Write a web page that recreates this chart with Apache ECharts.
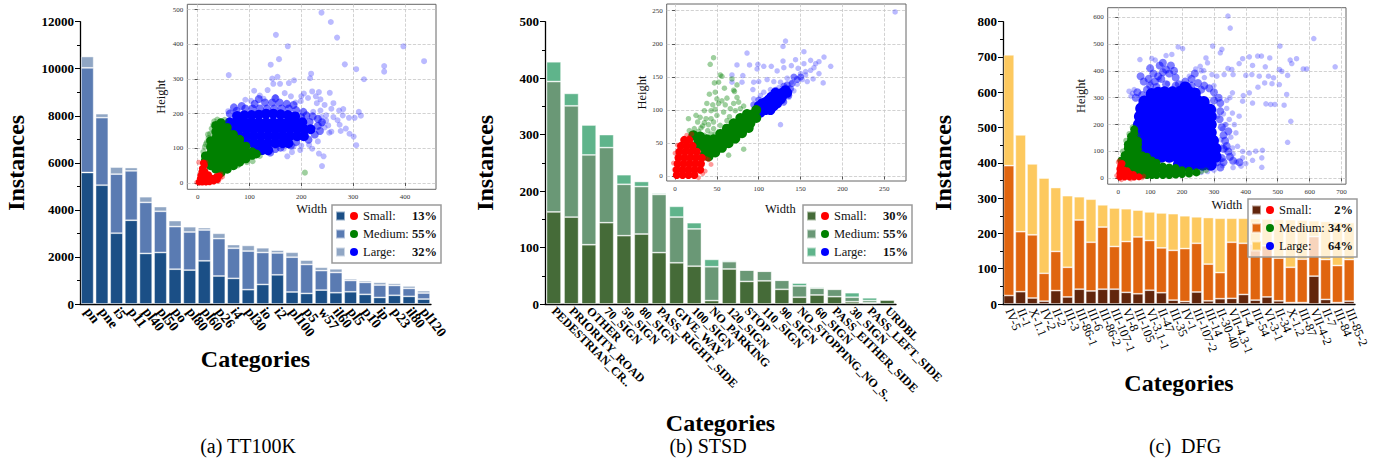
<!DOCTYPE html>
<html>
<head>
<meta charset="utf-8">
<script src="https://cdn.jsdelivr.net/npm/echarts@6/dist/echarts.min.js"></script>
<style>
  html, body { margin: 0; padding: 0; background: #fff; }
  #chart { width: 1378px; height: 466px; }
</style>
</head>
<body>
<div id="chart"></div>
<script>
// ---------- bar data (instances per size class) ----------
const catsA = ["pn", "pne", "i5", "p11", "pl40", "pl50", "po", "pl80", "pl60", "p26", "i4", "pl30",
  "io", "i2", "pl100", "p5", "w57", "il60", "pl5", "p10", "ip", "p23", "il80", "pl120"];
const smallA = [5590, 5050, 3010, 3560, 2150, 2190, 1480, 1440, 1835, 1190, 1090, 610,
  830, 1240, 510, 450, 590, 480, 520, 410, 280, 370, 325, 210];
const mediumA = [4450, 2870, 2510, 2100, 2170, 1750, 1810, 1620, 1310, 1590, 1280, 1640,
  1360, 930, 1480, 1230, 830, 860, 480, 510, 525, 420, 340, 255];
const largeA = [480, 170, 300, 140, 240, 200, 255, 225, 100, 225, 155, 240,
  200, 115, 210, 185, 140, 155, 70, 70, 115, 85, 100, 100];

const catsB = ["PEDESTRIAN_CR..", "PRIORITY_ROAD", "OTHER", "70_SIGN", "50_SIGN", "80_SIGN",
  "PASS_RIGHT_SIDE", "GIVE_WAY", "100_SIGN", "NO_PARKING", "120_SIGN", "STOP", "110_SIGN",
  "90_SIGN", "NO_STOPPING_NO_S..", "60_SIGN", "PASS_EITHER_SIDE", "30_SIGN", "PASS_LEFT_SIDE", "URDBL"];
const smallB = [163, 154, 105, 144, 121, 124, 91, 73, 67, 6, 62, 40, 41, 26, 12, 16, 13, 4, 2, 7];
const mediumB = [231, 197, 159, 133, 91, 84, 103, 81, 66, 60, 13, 20, 17, 16, 20, 12, 13, 8, 4, 1];
const largeB = [35, 22, 53, 23, 17, 9, 2, 19, 11, 13, 2, 0, 0, 0, 5, 2, 1, 8, 5, 0];

const catsC = ["IV-5", "II-1", "X-1.1", "IV-2", "II-2", "III-3", "III-86-1", "III-6", "III-86-2",
  "III-107-1", "VI-8", "III-105", "VI-3.1-1", "II-47", "III-35", "IV-1", "III-107-2", "III-14",
  "II-30-40", "VII-4.3-1", "II-4", "III-54", "VI-3-1", "II-34", "X-1.2", "III-87", "VII-4-2",
  "II-7", "III-84", "III-85-2"];
const smallC = [24, 35, 17, 8, 38, 20, 42, 37, 42, 42, 33, 29, 39, 32, 11, 7, 34, 9, 15, 16,
  27, 11, 20, 9, 4, 4, 79, 13, 4, 8];
const mediumC = [368, 170, 179, 79, 111, 84, 196, 138, 176, 121, 144, 161, 141, 127, 141, 150,
  138, 104, 74, 159, 145, 159, 145, 121, 100, 123, 112, 113, 105, 118];
const largeC = [314, 274, 201, 270, 181, 203, 66, 122, 63, 109, 93, 76, 81, 99, 104, 93, 75,
  132, 154, 68, 71, 72, 76, 110, 135, 111, 45, 108, 123, 105];

// legend shares (%)
const sizeNames = ["Small:", "Medium:", "Large:"];
const shareA = [13, 55, 32];
const shareB = [30, 55, 15];
const shareC = [2, 34, 64];

const barMax = [12000, 500, 800];
const barStep = [2000, 100, 100];

// ---------- scatter data (width, height) ----------
const scatTicksA = { x: [0, 100, 200, 300, 400], y: [0, 100, 200, 300, 400, 500] };
const scatTicksB = { x: [0, 50, 100, 150, 200, 250], y: [0, 50, 100, 150, 200, 250] };
const scatTicksC = { x: [0, 100, 200, 300, 400, 500, 600, 700], y: [0, 100, 200, 300, 400, 500, 600] };

const aRedCore = [[3,3],[9,3],[16,3],[23,4],[31,6],[38,10],[5,12],[12,12],[20,12],[28,14],[36,18],
  [6,22],[13,22],[21,24],[8,32],[14,34],[9,42],[13,51],[11,58],[41,20]];
const aRedSemi = [[2,60],[16,60],[45,26],[40,5],[-2,2],[48,18],[44,14]];
const aGreenCore = [[15,65],[15,78],[25,50],[25,68],[25,86],[25,104],[25,122],[35,40],[35,58],[35,76],
  [35,94],[35,112],[35,130],[35,148],[35,166],[45,30],[45,48],[45,66],[45,84],[45,102],[45,120],
  [45,138],[45,156],[45,174],[57,40],[57,58],[57,76],[57,94],[57,112],[57,130],[57,148],[57,160],
  [69,50],[69,68],[69,86],[69,104],[69,122],[69,140],[81,60],[81,78],[81,96],[81,114],[81,126],
  [93,70],[93,88],[93,106],[105,80],[105,90],[113,84]];
const aGreenSemi = [[38,183],[27,157],[21,130],[14,104],[45,178],[24,142],[106,63],[78,51],[207,30],
  [59,41],[30,168],[18,118],[52,182],[120,78],[95,60],[11,90],[32,178],[20,140],[16,112]];
const aBlueCore = [[110,95],[124,95],[136,95],
  [94,115],[108,115],[122,115],[136,115],[150,115],[164,115],[175,115],
  [80,135],[94,135],[108,135],[122,135],[136,135],[150,135],[164,135],[178,135],[192,135],[205,135],
  [66,155],[80,155],[94,155],[108,155],[122,155],[136,155],[150,155],[164,155],[178,155],[192,155],[206,155],[218,155],
  [62,175],[76,175],[90,175],[104,175],[118,175],[132,175],[146,175],[160,175],[174,175],[188,175],[202,175],
  [76,193],[90,195],[104,196],[118,197],[132,200],[146,200],[160,198],[174,196],[188,192]];
const aBlueMid = [[92,215],[106,215],[120,215],[134,215],[148,215],[162,215],[176,215],[190,210],[204,205],
  [130,232],[144,232],[158,232],[172,228],[232,185],[232,165],[226,140],[214,125],
  [190,118],[160,102],[62,200],[75,208],[110,228],[222,192],[216,176],[210,195],[200,190],
  [85,222],[70,218],[240,175],[236,150],[180,108],[150,98],[140,88],[118,242],[150,244],[185,225]];
const aBlueSemi = [[239,491],[257,464],[269,419],[151,427],[174,394],[397,394],[437,351],[284,342],
  [360,337],[360,321],[306,328],[321,299],[60,311],[141,341],[157,357],[219,315],[217,302],[154,306],
  [144,301],[186,296],[176,288],[146,286],[159,286],[135,268],[109,266],[168,259],[205,258],[221,264],
  [234,262],[255,260],[213,245],[237,241],[199,236],[189,232],[92,240],[103,237],[127,243],[258,214],
  [273,209],[281,213],[311,205],[315,194],[292,188],[303,188],[270,181],[274,168],[252,166],[240,171],
  [254,145],[276,150],[286,157],[293,142],[301,134],[306,109],[258,148],[221,99],[234,85],[243,77],
  [240,49],[173,77],[182,89],[166,99],[59,207],[237,209],[223,205],[239,190],[248,195],[230,230],
  [245,225],[228,250],[200,250],[180,250],[120,252],[150,248],[248,180],[262,190],[245,160],[232,120],
  [215,110],[200,108],[198,95],[185,105],[262,230],[280,195]];

const bRedCore = [[2,2],[9,2],[16,2],[23,2],[2,10],[9,10],[16,10],[23,10],[30,10],[3,19],[10,19],[17,19],
  [24,19],[31,19],[4,28],[11,28],[18,28],[25,28],[32,28],[5,37],[12,37],[19,37],[26,37],[7,46],[14,46],
  [21,46],[11,55],[17,55]];
const bRedSemi = [[3,47],[9,55],[14,62],[17,59],[40,25],[43,18],[37,27],[36,8],[-2,20],[-1,10],[20,64],
  [33,4],[28,-2],[0,35]];
const bGreenCore = [[35,32],[35,44],[42,36],[42,48],[50,42],[50,55],[58,49],[58,62],[66,57],[66,70],
  [74,64],[74,78],[82,72],[82,86],[90,80],[90,93],[97,88],[97,100],[28,52],[33,46],[22,62],
  [38,38],[46,45],[54,52],[62,59],[70,67],[78,74],[86,82],[94,90],[46,56],[54,64],[62,72],[70,80],
  [78,88],[86,94],[30,60],[38,56],[40,30],[48,36],[56,43],[64,50],[72,57],[80,65],[88,73],[26,44]];
const bGreenSemi = [[46,179],[42,169],[54,153],[56,151],[47,141],[52,142],[59,133],[48,127],[41,124],
  [50,117],[56,114],[62,118],[71,128],[74,119],[35,99],[43,99],[48,101],[16,87],[25,92],[30,89],[37,87],
  [43,87],[50,92],[58,97],[66,102],[72,99],[78,102],[82,106],[27,82],[35,81],[46,82],[54,77],[62,84],
  [17,69],[23,72],[31,73],[39,69],[46,72],[19,64],[27,62],[35,62],[43,64],[21,57],[64,32],[82,41],
  [70,130],[68,147],[74,138],[38,110],[45,108],[52,110],[60,108],[33,76],[40,78],[28,68],[65,90],
  [70,110],[76,112],[60,75],[55,68],[48,64],[40,58]];
const bBlueCore = [[98,100],[104,104],[108,100],[112,108],[104,110],[116,112],[120,118],[112,116],
  [124,122],[128,126],[118,106],[126,116],[132,130],[96,96],[102,96],[110,104],[122,110],
  [115,120],[108,112],[128,120],[134,126],[100,106],[120,126],[114,100]];
const bBlueMid = [[140,140],[146,146],[134,138],[130,136],[142,150],
  [120,130],[100,115],[94,108],[136,122],[130,112],[138,132],[150,150]];
const bBlueSemi = [[263,248],[132,204],[129,196],[154,188],[178,180],[186,166],[172,173],[168,170],
  [162,175],[86,186],[74,168],[89,168],[99,169],[106,166],[115,166],[122,159],[129,174],[139,167],
  [147,163],[98,162],[68,153],[81,152],[68,142],[80,142],[94,142],[100,143],[110,146],[118,143],
  [126,142],[134,148],[139,142],[150,155],[156,153],[165,147],[172,155],[177,141],[158,143],[142,129],
  [136,119],[130,114],[93,131],[106,127],[114,131],[126,78],[154,170],[144,176],[130,164],[136,134],
  [146,139],[124,134],[118,125],[102,122],[94,117],[156,158],[162,160],[166,164],[152,146]];

const cRedCore = [[5,5],[20,5],[35,5],[50,5],[65,6],[5,20],[20,20],[35,18],[48,14],[5,35],[17,32],
  [28,28],[8,48],[12,55]];
const cRedSemi = [[0,60],[3,65],[75,2],[80,8],[-5,10],[10,-5],[40,-3]];
const cGreenCore = [[10,66],[20,50],[20,68],[20,86],[30,40],[30,58],[30,76],[30,94],[30,112],[30,126],
  [40,34],[40,52],[40,70],[40,88],[40,106],[40,124],[40,142],[40,156],[50,24],[50,42],[50,60],[50,78],
  [50,96],[50,114],[50,132],[50,150],[50,168],[50,182],[62,18],[62,36],[62,54],[62,72],[62,90],[62,108],
  [62,126],[62,140],[75,14],[75,32],[75,50],[75,68],[75,86],[90,12],[90,30],[90,48],[90,66],[90,80],
  [105,12],[105,30],[105,48],[105,66],[120,12],[120,30],[120,48],[120,58],[140,12],[140,28],[140,44],
  [160,12],[160,27],[160,40],[180,14],[180,28],[180,38],[200,16],[200,30],[222,18],[222,28],[245,22]];
const cGreenSemi = [[25,140],[35,165],[45,190],[15,100],[60,160],[260,26],[275,30]];
const cBlueCore = [[190,50],[215,50],[240,50],[265,50],[290,50],
  [110,80],[135,80],[160,80],[185,80],[210,80],[235,80],[260,80],[285,80],[305,80],
  [80,110],[105,110],[130,110],[155,110],[180,110],[205,110],[230,110],[255,110],[280,110],[305,110],
  [72,140],[97,140],[122,140],[147,140],[172,140],[197,140],[222,140],[247,140],[272,140],[297,140],
  [65,170],[90,170],[115,170],[140,170],[165,170],[190,170],[215,170],[240,170],[265,170],[290,170],
  [65,200],[90,200],[115,200],[140,200],[165,200],[190,200],[215,200],[240,200],[265,200],[290,200],
  [68,230],[93,230],[118,230],[143,230],[168,230],[193,230],[218,230],[243,230],[268,230],[290,230],
  [72,260],[95,260],[120,260],[145,260],[170,260],[195,260],[220,260],[245,260],[270,260],[288,255],
  [82,286],[100,290],[122,290],[147,290],[172,290],[197,290],[222,290],[247,290],[268,284],
  [105,314],[125,318],[145,320],[170,320],[195,322],[220,322],[240,316],[210,338]];
const cBlueMid = [[90,330],[100,345],[115,360],[125,380],[140,395],[150,405],[160,390],[135,370],
  [110,390],[95,370],[120,340],[150,350],[165,420],[175,400],[180,375],[80,360],[70,380],[100,410],
  [130,420],[140,430],[210,360],[230,370],[250,355],[190,350],[240,390],[270,345],[285,335],[300,320],
  [315,300],[320,280],[320,250],[318,220],[325,190],[330,160],[335,140],[340,120],[345,100],[350,80],
  [360,65],[380,60],[330,60],[320,40],[60,320],[55,300],[330,110],[345,175],[260,330],[230,345],
  [180,345],[75,310],[300,290],[310,60],[325,75]];
const cBlueSemi = [[344,604],[351,559],[613,520],[507,492],[188,489],[202,483],[296,492],[325,480],
  [320,467],[68,442],[105,446],[116,440],[150,457],[168,461],[275,448],[280,430],[390,445],[411,452],
  [437,455],[449,455],[475,448],[539,440],[559,445],[544,427],[580,407],[591,407],[680,415],[505,405],
  [513,398],[531,383],[421,420],[461,415],[379,427],[344,409],[356,405],[223,380],[243,407],[257,417],
  [268,401],[294,386],[309,380],[332,386],[360,386],[400,383],[419,386],[442,380],[471,380],[487,374],
  [505,349],[482,352],[459,355],[438,339],[411,318],[392,308],[358,318],[390,287],[421,280],[463,277],
  [478,275],[491,275],[520,272],[528,312],[541,212],[531,134],[450,41],[450,76],[421,67],[390,76],
  [411,94],[431,101],[452,104],[337,107],[358,113],[374,119],[353,153],[369,169],[338,200],[348,219],
  [364,200],[327,184],[379,231],[358,243],[322,144],[327,119],[306,88],[322,70],[400,55],[385,45],
  [327,47],[40,306],[45,316],[34,324],[50,330],[102,355],[128,368],[155,353],[170,335],[202,353],
  [223,343],[191,293],[285,268],[301,256],[312,231],[264,119],[285,194],[260,400],[270,375],[300,345],
  [340,290],[340,260],[330,240],[350,300],[335,200],[360,90],[370,60],[390,100],[360,40],[300,30],
  [280,25],[260,22]];

const captions = ["(a) TT100K", "(b) STSD", "(c)  DFG"];

// ---------- styling ----------
const serif = "'Liberation Serif', 'Times New Roman', serif";
const colorsA = ["#1b4f86", "#5a7bb2", "#90a6c4"];
const colorsB = ["#456b38", "#6a9876", "#5fb48b"];
const colorsC = ["#62260c", "#e0650f", "#fdc95f"];
const dotColors = ["#ff0000", "#008000", "#0000ff"];

const barGrids = [
  { left: 80, top: 21.7, width: 351, height: 282.3 },
  { left: 545, top: 21.7, width: 351, height: 282.3 },
  { left: 1003, top: 21.7, width: 352, height: 282.3 }
];
const insetGrids = [
  { left: 187.3, top: 4.3, width: 248.7, height: 185 },
  { left: 666.7, top: 4, width: 239.3, height: 177 },
  { left: 1107.7, top: 7.7, width: 238.3, height: 176.5 }
];

function barXAxis(i, cats, rotate, size, weight, nameGap) {
  return {
    type: "category", gridIndex: i, data: cats,
    axisLine: { lineStyle: { color: "#000", width: 1.3 } },
    axisTick: { alignWithLabel: true, length: 4, lineStyle: { color: "#000" } },
    axisLabel: { interval: 0, rotate: rotate, margin: 5, color: "#000",
      fontFamily: serif, fontSize: size, fontWeight: weight },
    name: "Categories", nameLocation: "middle", nameGap: nameGap,
    nameTextStyle: { fontFamily: serif, fontSize: 24, fontWeight: "bold", color: "#000" }
  };
}

function barYAxis(i) {
  return {
    type: "value", gridIndex: i, min: 0, max: barMax[i], interval: barStep[i],
    axisLine: { show: true, lineStyle: { color: "#000", width: 1.3 } },
    axisTick: { show: true, length: 5, lineStyle: { color: "#000" } },
    minorTick: { show: true, splitNumber: 2, length: 3, lineStyle: { color: "#000" } },
    splitLine: { show: false },
    axisLabel: { color: "#000", fontFamily: serif, fontSize: 13, fontWeight: "bold", margin: 6,
      formatter: (v) => String(v) },
    name: "Instances", nameLocation: "middle", nameGap: i === 0 ? 52 : 48,
    nameTextStyle: { fontFamily: serif, fontSize: 24, fontWeight: "bold", color: "#000" }
  };
}

function insetAxis(i, min, max, ticks, name, nameGap, namePad) {
  return {
    type: "value", gridIndex: 3 + i, min: min, max: max,
    axisLine: { show: false },
    axisTick: { show: true, length: 3, customValues: ticks, lineStyle: { color: "#555" } },
    axisLabel: { customValues: ticks, fontFamily: serif, fontSize: 7, color: "#333", margin: 4 },
    splitLine: { show: true, lineStyle: { type: "dashed", color: "#c6c6c6", width: 0.8 } },
    name: name, nameLocation: "middle", nameGap: nameGap,
    nameTextStyle: { fontFamily: serif, fontSize: 12.5, color: "#111", padding: namePad || 0 }
  };
}

function barSeries(tag, i, small, medium, large, colors) {
  return [small, medium, large].map((vals, k) => ({
    type: "bar", name: tag + k, stack: tag, xAxisIndex: i, yAxisIndex: i,
    barCategoryGap: ["13%", "17%", "10%"][i],
    data: vals,
    itemStyle: { color: colors[k], borderColor: "rgba(255,255,255,0.55)", borderWidth: 0.8 },
    silent: true
  }));
}

function dots(i, data, size, color) {
  return { type: "scatter", xAxisIndex: 3 + i, yAxisIndex: 3 + i, data: data,
    symbolSize: size, itemStyle: { color: color, opacity: 1, borderWidth: 0 }, silent: true };
}

const shares = { a: shareA, b: shareB, c: shareC };
const dotKeys = ["r", "g", "b"];
function sizeLegend(tag, left, top) {
  const rich = {
    n: { fontFamily: serif, fontSize: 12.5, color: "#111", width: 47, padding: [0, 0, 0, 5] },
    p: { fontFamily: serif, fontSize: 12.5, color: "#111", fontWeight: "bold", width: 27, align: "right" }
  };
  dotKeys.forEach((k, j) => {
    rich[k] = { width: 8, height: 8, borderRadius: 4, backgroundColor: dotColors[j] };
  });
  return {
    left: left, top: top, orient: "vertical", selectedMode: false,
    data: [tag + "0", tag + "1", tag + "2"],
    icon: "rect", itemWidth: 9, itemHeight: 9, itemGap: 4,
    padding: [4, 4, 4, 3],
    backgroundColor: "rgba(255,255,255,0.72)", borderColor: "#9a9a9a", borderWidth: 1.5,
    formatter: (name) => {
      const k = +name.slice(-1);
      return "{" + dotKeys[k] + "| }{n|" + sizeNames[k] + "}{p|" + shares[tag][k] + "%}";
    },
    textStyle: { fontFamily: serif, fontSize: 12.5, lineHeight: 14, rich: rich }
  };
}

const insetGridStyle = { show: true, borderColor: "#666", borderWidth: 1, backgroundColor: "#fff" };

const option = {
  animation: false,
  backgroundColor: "#fff",
  grid: barGrids.concat(insetGrids.map((g) => Object.assign({}, g, insetGridStyle))),
  xAxis: [
    barXAxis(0, catsA, -53, 14, "bold", 41),
    barXAxis(1, catsB, -45, 12, "bold", 93),
    barXAxis(2, catsC, -68, 12.5, "normal", 67),
    insetAxis(0, -20, 460, scatTicksA.x, "Width", 13),
    insetAxis(1, -10, 276, scatTicksB.x, "Width", 21, [0, 12, 0, 0]),
    insetAxis(2, -33, 714, scatTicksC.x, "Width", 14)
  ],
  yAxis: [
    barYAxis(0), barYAxis(1), barYAxis(2),
    insetAxis(0, -18, 515, scatTicksA.y, "Height", 20),
    insetAxis(1, -7, 260, scatTicksB.y, "Height", 18),
    insetAxis(2, -22, 635, scatTicksC.y, "Height", 20)
  ],
  legend: [
    sizeLegend("a", 332, 205),
    sizeLegend("b", 803, 205),
    sizeLegend("c", 1248, 199)
  ],
  graphic: captions.map((t, i) => ({
    type: "text", x: [248, 708, 1185][i], y: 446,
    style: { text: t, fontFamily: serif, fontSize: 20, fill: "#000", align: "center", verticalAlign: "middle" }
  })),
  series: [].concat(
    barSeries("a", 0, smallA, mediumA, largeA, colorsA),
    barSeries("b", 1, smallB, mediumB, largeB, colorsB),
    barSeries("c", 2, smallC, mediumC, largeC, colorsC),
    [
      dots(0, aBlueSemi, 6, "rgba(40,40,255,0.32)"),
      dots(0, aBlueMid, 8, "rgba(0,0,255,0.55)"),
      dots(0, aBlueCore, 10, "#0000ff"),
      dots(0, aGreenSemi, 6, "rgba(0,128,0,0.38)"),
      dots(0, aGreenCore, 9, "#008000"),
      dots(0, aRedSemi, 5, "rgba(255,0,0,0.4)"),
      dots(0, aRedCore, 7, "#ff0000"),
      dots(1, bBlueSemi, 5.5, "rgba(40,40,255,0.32)"),
      dots(1, bBlueMid, 7, "rgba(0,0,255,0.5)"),
      dots(1, bBlueCore, 10, "#0000ff"),
      dots(1, bGreenSemi, 5.5, "rgba(0,128,0,0.38)"),
      dots(1, bGreenCore, 10, "#008000"),
      dots(1, bRedSemi, 5, "rgba(255,0,0,0.4)"),
      dots(1, bRedCore, 8, "#ff0000"),
      dots(2, cBlueSemi, 5.5, "rgba(40,40,255,0.32)"),
      dots(2, cBlueMid, 8, "rgba(0,0,255,0.5)"),
      dots(2, cBlueCore, 12, "#0000ff"),
      dots(2, cGreenSemi, 6, "rgba(0,128,0,0.4)"),
      dots(2, cGreenCore, 8, "#008000"),
      dots(2, cRedSemi, 5, "rgba(255,0,0,0.4)"),
      dots(2, cRedCore, 7, "#ff0000")
    ]
  )
};

const chart = echarts.init(document.getElementById("chart"), null, { renderer: "svg" });
chart.setOption(option);
</script>
</body>
</html>
